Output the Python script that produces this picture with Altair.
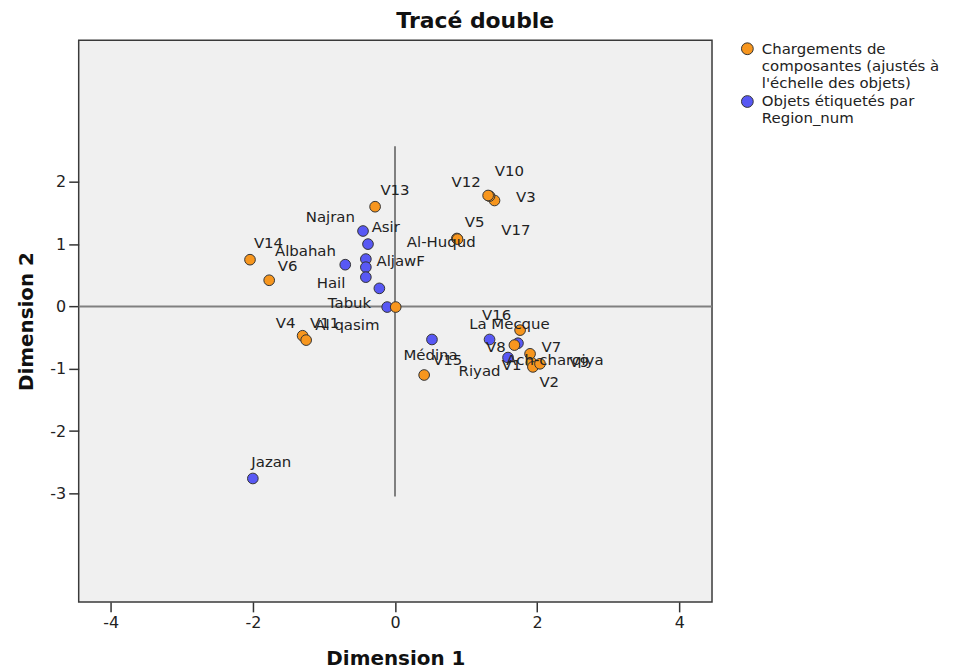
import altair as alt
import pandas as pd

# ---- Objects (regions), blue ----
obj_names = ["Najran", "Asir", "Albahah", "AljawF", "Al-Huqud", "Hail", "Al qasim",
             "Tabuk", "Médina", "La Mecque", "Ach-charqiya", "Riyad", "Jazan"]
obj_x = [-0.45, -0.38, -0.70, -0.41, -0.41, -0.41, -0.22, -0.11, 0.52, 1.33, 1.73, 1.59, -2.00]
obj_y = [1.21, 1.00, 0.67, 0.76, 0.63, 0.47, 0.29, -0.01, -0.53, -0.53, -0.59, -0.82, -2.76]
obj_lx = [-0.91, -0.13, -1.26, 0.08, 0.65, -0.90, -0.67, -0.64, 0.50, 1.61, 2.25, 1.19, -1.74]
obj_ly = [1.44, 1.27, 0.89, 0.73, 1.03, 0.37, -0.30, 0.05, -0.78, -0.28, -0.86, -1.04, -2.49]

# ---- Component loadings, orange ----
var_names = ["V1", "V2", "V3", "V4", "V5", "V6", "V7", "V8", "V9", "V10", "V11",
             "V12", "V13", "V14", "V15", "V16", "V17", ""]
var_x = [1.92, 1.94, 1.40, -1.30, 0.87, -1.77, 1.90, 1.68, 2.04, 1.33, -1.25,
         1.31, -0.28, -2.04, 0.41, 1.76, 0.88, 0.01]
var_y = [-0.90, -0.97, 1.70, -0.47, 1.09, 0.42, -0.76, -0.62, -0.92, 1.77, -0.54,
         1.78, 1.60, 0.75, -1.10, -0.38, 1.08, -0.01]
var_lx = [1.64, 2.17, 1.84, -1.54, 1.12, -1.51, 2.20, 1.42, 2.59, 1.61, -0.99,
          1.00, 0.00, -1.78, 0.74, 1.43, 1.70, 0.0]
var_ly = [-0.94, -1.21, 1.75, -0.27, 1.36, 0.65, -0.65, -0.65, -0.89, 2.17, -0.27,
          2.00, 1.87, 1.01, -0.86, -0.13, 1.23, 0.0]

x_ticks = [-4, -2, 0, 2, 4]
y_ticks = [-3, -2, -1, 0, 1, 2]

LOAD = "Chargements de|composantes (ajustés à|l'échelle des objets)"
OBJ = "Objets étiquetés par|Region_num"

df = pd.DataFrame({
    "name": obj_names + var_names,
    "x": obj_x + var_x,
    "y": obj_y + var_y,
    "lx": obj_lx + var_lx,
    "ly": obj_ly + var_ly,
    "group": [OBJ] * len(obj_names) + [LOAD] * len(var_names),
    "ord": [0] * len(obj_names) + [1] * len(var_names),
})

xs = alt.Scale(domain=[-4.45, 4.46], nice=False, zero=False)
ys = alt.Scale(domain=[-4.74, 4.27], nice=False, zero=False)

hline = alt.Chart(pd.DataFrame({"y": [0]})).mark_rule(
    color="#808080", strokeWidth=2
).encode(y=alt.Y("y:Q", scale=ys))

vline = alt.Chart(pd.DataFrame({"x": [0], "y": [2.57], "y2": [-3.05]})).mark_rule(
    color="#808080", strokeWidth=2
).encode(x=alt.X("x:Q", scale=xs), y=alt.Y("y:Q", scale=ys), y2="y2:Q")

points = alt.Chart(df).mark_circle(
    size=115, opacity=1, stroke="#333333", strokeWidth=1
).encode(
    x=alt.X("x:Q", scale=xs, axis=alt.Axis(values=x_ticks, title="Dimension 1",
                                           labelExpr="'' + datum.value")),
    y=alt.Y("y:Q", scale=ys, axis=alt.Axis(values=y_ticks, title="Dimension 2",
                                           labelExpr="'' + datum.value")),
    color=alt.Color(
        "group:N",
        scale=alt.Scale(domain=[LOAD, OBJ], range=["#F7961E", "#5858F4"]),
        legend=alt.Legend(
            title=None, orient="none", legendX=664, legendY=1,
            labelExpr="split(datum.label, '|')",
            labelFont="DejaVu Sans", labelFontSize=15, labelColor="#222222",
            labelLimit=400, symbolSize=140, symbolType="circle",
            symbolStrokeColor="#333333", symbolStrokeWidth=1, symbolOpacity=1,
            rowPadding=2, labelOffset=7, padding=0,
        ),
    ),
    order=alt.Order("ord:Q"),
)

labels = alt.Chart(df).mark_text(
    font="DejaVu Sans", fontSize=15, color="#222222", align="center", baseline="middle"
).encode(
    x=alt.X("lx:Q", scale=xs),
    y=alt.Y("ly:Q", scale=ys),
    text="name:N",
)

chart = alt.layer(hline, vline, points, labels).properties(
    width=636, height=564,
    autosize=alt.AutoSizeParams(type="none"),
    padding={"left": 71, "top": 31, "right": 240, "bottom": 72},
    title=alt.TitleParams(
        "Tracé double", font="DejaVu Sans", fontSize=22, fontWeight="bold",
        anchor="start", frame="group", dx=319, offset=7, color="#111111",
    ),
).configure_view(
    fill="#F0F0F0", stroke="#3a3a3a", strokeWidth=1.5
).configure_axis(
    grid=False, domain=False,
    labelFont="DejaVu Sans", labelFontSize=16, labelColor="#222222", labelPadding=3,
    tickColor="#333333", tickSize=10, tickWidth=1.5,
    titleFont="DejaVu Sans", titleFontSize=20, titleFontWeight="bold", titleColor="#111111",
).configure_axisX(titlePadding=18).configure_axisY(titlePadding=13)

chart.save("out.html", embed_options={"renderer": "svg", "actions": False})
